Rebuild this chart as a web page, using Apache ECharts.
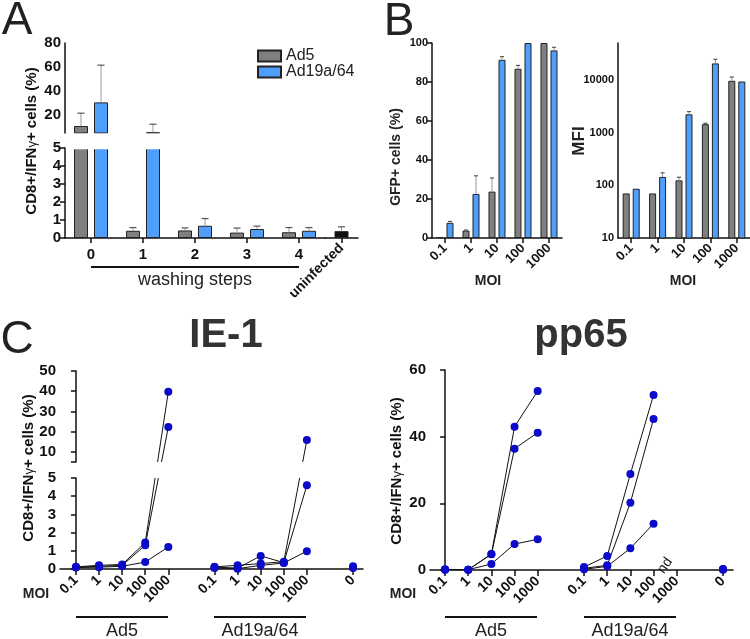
<!DOCTYPE html>
<html><head><meta charset="utf-8">
<script src="https://cdn.jsdelivr.net/npm/echarts@6/dist/echarts.min.js"></script>
<style>html,body{margin:0;padding:0;background:#fff}#c{width:750px;height:639px}</style>
</head><body><div id="c"></div><script>
const FONT = '"Liberation Sans", Arial, Helvetica, sans-serif';
// ---------- Panel A ----------
const aSteps = ['0', '1', '2', '3', '4'];
const aUninfCat = ['uninfected'];
const aAd5 = [10.8, 0.4, 0.42, 0.3, 0.32];
const aAd5Top = [21.5, 0.58, 0.56, 0.55, 0.58];
const aAd19 = [30.5, 5.6, 0.68, 0.5, 0.4];
const aAd19Top = [61.5, 12.3, 1.08, 0.66, 0.58];
const aUninf = [0.38];
const aUninfTop = [0.62];
// ---------- Panel B ----------
const moi = ['0.1', '1', '10', '100', '1000'];
const gfpAd5 = [0.5, 3.8, 23.8, 86.8, 100];
const gfpAd5Top = [null, 4.1, 30.8, 88.5, null];
const gfpAd19 = [7.8, 22.6, 91.4, 100, 96.2];
const gfpAd19Top = [8.5, 31.9, 93, null, 97.8];
const mfiAd5 = [70, 70, 124, 1440, 9600];
const mfiAd5Top = [null, null, 142, 1500, 11300];
const mfiAd19 = [86, 144, 2220, 20500, 9300];
const mfiAd19Top = [null, 172, 2500, 24500, null];
const mfiTicks = [10, 100, 1000, 10000];
// ---------- Panel C ----------
const cLabels = ['0.1', '1', '10', '100', '1000', '', '0.1', '1', '10', '100', '1000', '', '0'];
const ad5Pos = 0, ad19Pos = 6, uninfPos = 12;
const ie1Ad5 = [[0.12, 0.2, 0.25, 1.45, 39.7], [0.1, 0.15, 0.2, 1.3, 22.3], [0.08, 0.1, 0.15, 0.38, 1.21]];
const ie1Ad19 = [[0.12, 0.2, 0.3, 0.4, 15.9], [0.1, 0.05, 0.72, 0.35, 4.6], [0.05, 0.02, 0.2, 0.33, 0.98]];
const ie1Uninf = [0.15, 0.08, 0.05];
const pp65Ad5 = [[0.2, 0.1, 4.8, 43, 53.7], [0.1, 0.1, 4.7, 36.4, 41.2], [0.1, 0.1, 1.8, 7.8, 9.2]];
const pp65Ad19 = [[0.9, 4.2, 28.8, 52.5, null], [0.5, 1.4, 20.2, 45.3, null], [0.2, 1.1, 6.5, 13.9, null]];
const pp65Uninf = [0.3, 0.2, 0.1];
const ieBreak = 5;

const GRAY = '#808080', BLUE = '#4f9ef9', DOT = '#0a0ac8', INK = '#111';
const chart = echarts.init(document.getElementById('c'), null, {renderer: 'canvas'});

function yAx(grid, o) {
  return Object.assign({
    gridIndex: grid, type: 'value', splitLine: {show: false},
    axisLine: {show: true, lineStyle: {color: INK, width: 1.5}},
    axisTick: {show: true, length: 5, lineStyle: {color: INK, width: 1.5}},
    axisLabel: {color: INK, fontWeight: 'bold', fontFamily: FONT, fontSize: 15, margin: 4}
  }, o);
}
function xCat(grid, data, o) {
  return Object.assign({
    gridIndex: grid, type: 'category', data: data, boundaryGap: true,
    axisLine: {show: true, onZero: false, lineStyle: {color: INK, width: 1.5}},
    axisTick: {show: true, alignWithLabel: true, length: 5, interval: 0, lineStyle: {color: INK, width: 1.5}},
    axisLabel: {color: INK, fontWeight: 'bold', fontFamily: FONT, fontSize: 15, margin: 9, interval: 0},
    splitLine: {show: false}
  }, o);
}
const cIdx = [0, 1, 2, 3, 4, 6, 7, 8, 9, 10, 12];
function xVal(grid, min, max, show) {
  return {
    gridIndex: grid, type: 'value', min: min, max: max, show: show, splitLine: {show: false},
    axisLine: {show: true, onZero: false, lineStyle: {color: INK, width: 1.5}},
    axisTick: {show: true, length: 6, customValues: cIdx, lineStyle: {color: INK, width: 1.5}},
    axisLabel: {show: true, customValues: cIdx, rotate: 45, margin: 9, color: INK, fontWeight: 'bold',
      fontFamily: FONT, fontSize: 14, formatter: v => cLabels[Math.round(v)]}
  };
}
function bar(name, xi, yi, data, color, bw, gap) {
  return {type: 'bar', name: name, xAxisIndex: xi, yAxisIndex: yi, data: data, barWidth: bw, barGap: gap,
    clip: true, itemStyle: {color: color, borderColor: '#222', borderWidth: 1}, z: 2, silent: true};
}
function err(xi, yi, vals, tops, offset, cap) {
  return {type: 'custom', xAxisIndex: xi, yAxisIndex: yi, clip: true, z: 3, silent: true,
    data: vals.map((v, i) => [i, v, tops[i] == null ? NaN : tops[i]]),
    renderItem(params, api) {
      const t = api.value(2);
      if (t == null || isNaN(t)) return;
      const p0 = api.coord([api.value(0), api.value(1)]);
      const p1 = api.coord([api.value(0), t]);
      const x = p0[0] + offset;
      return {type: 'group', children: [
        {type: 'line', shape: {x1: x, y1: p0[1], x2: x, y2: p1[1]}, style: {stroke: '#9a9a9a', lineWidth: 1}},
        {type: 'line', shape: {x1: x - cap, y1: p1[1], x2: x + cap, y2: p1[1]}, style: {stroke: '#555', lineWidth: 1.2}}
      ]};
    }};
}
function pts(rowsList) {
  const out = [];
  rowsList.forEach(([rows, pos]) => rows.forEach(r => r.forEach((v, k) => { if (v != null) out.push([pos + k, v]); })));
  return out;
}
function segs(rowsList) {
  const out = [];
  rowsList.forEach(([rows, pos]) => rows.forEach(r => {
    for (let k = 0; k < r.length - 1; k++) if (r[k] != null && r[k + 1] != null) out.push([pos + k, r[k], pos + k + 1, r[k + 1]]);
  }));
  return out;
}
const ieGroups = [[ie1Ad5, ad5Pos], [ie1Ad19, ad19Pos]];
const iePoints = pts(ieGroups).concat(ie1Uninf.map(v => [uninfPos, v]));
const dotStyle = {color: DOT, opacity: 1};

const series = [
  // A
  bar('Ad5', 0, 0, aAd5, GRAY, 14, '43%'), bar('Ad19a/64', 0, 0, aAd19, BLUE, 14, '43%'),
  bar('Ad5', 1, 1, aAd5, GRAY, 14, '43%'), bar('Ad19a/64', 1, 1, aAd19, BLUE, 14, '43%'),
  bar('uninfected', 2, 2, aUninf, '#111', 14, '43%'),
  err(0, 0, aAd5, aAd5Top, -10, 3.5), err(0, 0, aAd19, aAd19Top, 10, 3.5),
  err(1, 1, aAd5, aAd5Top, -10, 3.5), err(1, 1, aAd19, aAd19Top, 10, 3.5),
  err(2, 2, aUninf, aUninfTop, 0, 3.5),
  // B
  bar('Ad5', 3, 3, gfpAd5, GRAY, 7, '43%'), bar('Ad19a/64', 3, 3, gfpAd19, BLUE, 7, '43%'),
  err(3, 3, gfpAd5, gfpAd5Top, -5, 2), err(3, 3, gfpAd19, gfpAd19Top, 5, 2),
  bar('Ad5', 4, 4, mfiAd5, GRAY, 7, '43%'), bar('Ad19a/64', 4, 4, mfiAd19, BLUE, 7, '43%'),
  err(4, 4, mfiAd5, mfiAd5Top, -5, 2), err(4, 4, mfiAd19, mfiAd19Top, 5, 2),
  // C IE-1 lines across broken axis
  {type: 'custom', xAxisIndex: 6, yAxisIndex: 6, clip: false, z: 3, silent: true,
    data: segs(ieGroups),
    renderItem(params, api) {
      const x1 = api.value(0), y1 = api.value(1), x2 = api.value(2), y2 = api.value(3);
      const up = (x, y) => chart.convertToPixel({xAxisIndex: 5, yAxisIndex: 5}, [x, y]);
      const px = (x, y) => y <= ieBreak ? api.coord([x, y]) : up(x, y);
      const a = px(x1, y1), b = px(x2, y2);
      const st = {stroke: INK, lineWidth: 1};
      const lo1 = y1 <= ieBreak, lo2 = y2 <= ieBreak;
      if (lo1 === lo2) return {type: 'line', shape: {x1: a[0], y1: a[1], x2: b[0], y2: b[1]}, style: st};
      const lowTop = api.coord([0, ieBreak])[1];
      const upBot = up(0, ieBreak)[1];
      const L = lo1 ? a : b, U = lo1 ? b : a;
      const ix = yy => L[0] + (U[0] - L[0]) * (yy - L[1]) / (U[1] - L[1]);
      return {type: 'group', children: [
        {type: 'line', shape: {x1: L[0], y1: L[1], x2: ix(lowTop), y2: lowTop}, style: st},
        {type: 'line', shape: {x1: ix(upBot), y1: upBot, x2: U[0], y2: U[1]}, style: st}
      ]};
    }},
  {type: 'scatter', xAxisIndex: 5, yAxisIndex: 5, data: iePoints, symbolSize: 8, clip: true, z: 4, silent: true, itemStyle: dotStyle},
  {type: 'scatter', xAxisIndex: 6, yAxisIndex: 6, data: iePoints, symbolSize: 8, clip: true, z: 4, silent: true, itemStyle: dotStyle},
  // C pp65
  {type: 'scatter', xAxisIndex: 7, yAxisIndex: 7, data: pp65Uninf.map(v => [uninfPos, v]), symbolSize: 8, z: 4, silent: true, itemStyle: dotStyle},
  {type: 'scatter', xAxisIndex: 7, yAxisIndex: 7, data: [[ad19Pos + 4, 0]], symbolSize: 1, silent: true, z: 5,
    itemStyle: {color: 'rgba(0,0,0,0)', opacity: 1},
    label: {show: true, formatter: 'nd', position: 'inside', offset: [-3, -12], rotate: 55, fontFamily: FONT, fontSize: 14,
      color: '#1a1a1a', opacity: 1, textBorderWidth: 0}}
];
[[pp65Ad5, ad5Pos], [pp65Ad19, ad19Pos]].forEach(([rows, pos]) => rows.forEach(r => {
  series.push({type: 'line', xAxisIndex: 7, yAxisIndex: 7, silent: true, z: 3,
    data: r.map((v, k) => v == null ? null : [pos + k, v]).filter(d => d),
    symbol: 'circle', symbolSize: 8, showSymbol: true, animation: false,
    itemStyle: dotStyle, lineStyle: {color: INK, width: 1}});
}));

const yName = '{b|CD8+/IFN}{g|γ}{b|+ cells (%)}';
const rich = {b: {fontSize: 15, fontWeight: 'bold', fontFamily: FONT, fill: INK, color: INK},
  g: {fontSize: 13, fontFamily: FONT, fill: INK, color: INK}};
function txt(x, y, text, size, weight, extra, fill) {
  return Object.assign({type: 'text', x: x, y: y, silent: true, z: 110,
    style: {text: text, fontSize: size, fontWeight: weight || 'normal', fontFamily: FONT, fill: fill || '#222', align: 'center', verticalAlign: 'middle'}}, extra || {});
}
function hline(x1, x2, y) {
  return {type: 'line', silent: true, z: 110, shape: {x1: x1, y1: y, x2: x2, y2: y}, style: {stroke: INK, lineWidth: 2}};
}
const graphic = [
  // white gap of the broken axis in panel A
  {type: 'rect', silent: true, z: 100, shape: {x: 66, y: 133.6, width: 294, height: 15.6}, style: {fill: '#fff'}},
  txt(17, 21, 'A', 46), txt(399, 22, 'B', 46), txt(17, 340, 'C', 46),
  txt(226, 336, 'IE-1', 40, 'bold', null, '#333'),
  txt(581, 336, 'pp65', 40, 'bold', null, '#333'),
  {type: 'text', x: 32, y: 141, rotation: Math.PI / 2, silent: true, z: 110, style: {text: yName, rich: rich, align: 'center', verticalAlign: 'middle'}},
  {type: 'text', x: 29, y: 468, rotation: Math.PI / 2, silent: true, z: 110, style: {text: yName, rich: rich, align: 'center', verticalAlign: 'middle'}},
  {type: 'text', x: 397, y: 471, rotation: Math.PI / 2, silent: true, z: 110, style: {text: yName, rich: rich, align: 'center', verticalAlign: 'middle'}},
  txt(396, 157, 'GFP+ cells (%)', 14, 'bold', {rotation: Math.PI / 2}),
  txt(579, 141, 'MFI', 17, 'bold', {rotation: Math.PI / 2}),
  txt(488, 281, 'MOI', 14, 'bold'), txt(683, 281, 'MOI', 14, 'bold'),
  txt(36, 594, 'MOI', 14, 'bold'), txt(403, 594, 'MOI', 14, 'bold'),
  hline(91, 299, 267), txt(195, 280, 'washing steps', 18),
  hline(76, 168, 617), hline(214, 306, 617), hline(445, 537, 617), hline(584, 676, 617),
  txt(122, 631, 'Ad5', 18), txt(260, 631, 'Ad19a/64', 18), txt(491, 631, 'Ad5', 18), txt(630, 631, 'Ad19a/64', 18)
];

const rotLabel = {color: INK, fontWeight: 'bold', fontFamily: FONT, fontSize: 13, rotate: 45, margin: 8, interval: 0};
const option = {
  animation: false,
  textStyle: {fontFamily: FONT},
  legend: {data: ['Ad5', 'Ad19a/64'], orient: 'vertical', left: 252, top: 43, itemWidth: 23, itemHeight: 11, itemGap: 0,
    icon: 'rect', selectedMode: false, textStyle: {fontSize: 16, fontFamily: FONT, color: '#222'}},
  grid: [
    {left: 65, top: 43, width: 260, height: 90},
    {left: 65, top: 148, width: 260, height: 90},
    {left: 325, top: 148, width: 33, height: 90},
    {left: 432, top: 43, width: 130, height: 195},
    {left: 618, top: 43, width: 132, height: 195},
    {left: 60, top: 371, width: 303, height: 91},
    {left: 60, top: 478, width: 303, height: 91},
    {left: 430, top: 370, width: 303, height: 200}
  ],
  xAxis: [
    xCat(0, aSteps, {show: false}),
    xCat(1, aSteps),
    xCat(2, aUninfCat, {axisLabel: Object.assign({}, rotLabel, {fontSize: 14})}),
    xCat(3, moi, {axisLabel: rotLabel}),
    xCat(4, moi, {axisLabel: rotLabel}),
    xVal(5, -0.69, 12.43, false),
    xVal(6, -0.69, 12.43, true),
    xVal(7, -0.65, 12.43, true)
  ],
  yAxis: [
    yAx(0, {min: 5, max: 80, axisLabel: {customValues: [20, 40, 60, 80], color: INK, fontWeight: 'bold', fontFamily: FONT, fontSize: 15, margin: 4},
      axisTick: {customValues: [5, 20, 40, 60, 80], length: 5, lineStyle: {color: INK, width: 1.5}}}),
    yAx(1, {min: 0, max: 5, interval: 1}),
    yAx(2, {min: 0, max: 5, interval: 1, show: false}),
    yAx(3, {min: 0, max: 100, interval: 20, axisLabel: {color: INK, fontWeight: 'bold', fontFamily: FONT, fontSize: 11, margin: 4}}),
    yAx(4, {type: 'log', min: 10, max: 50000, logBase: 10,
      axisLabel: {customValues: mfiTicks, formatter: v => String(Math.round(v)), color: INK, fontWeight: 'bold', fontFamily: FONT, fontSize: 11, margin: 4},
      axisTick: {customValues: mfiTicks, length: 5, lineStyle: {color: INK, width: 1.5}}, minorTick: {show: false}}),
    yAx(5, {min: 5, max: 50, axisLabel: {customValues: [10, 20, 30, 40, 50], color: INK, fontWeight: 'bold', fontFamily: FONT, fontSize: 15, margin: 4},
      axisTick: {customValues: [5, 10, 20, 30, 40, 50], length: 5, lineStyle: {color: INK, width: 1.5}}}),
    yAx(6, {min: 0, max: 5, interval: 1}),
    yAx(7, {min: 0, max: 60, interval: 20})
  ],
  series: series,
  graphic: graphic
};
chart.setOption(option);
</script></body></html>
